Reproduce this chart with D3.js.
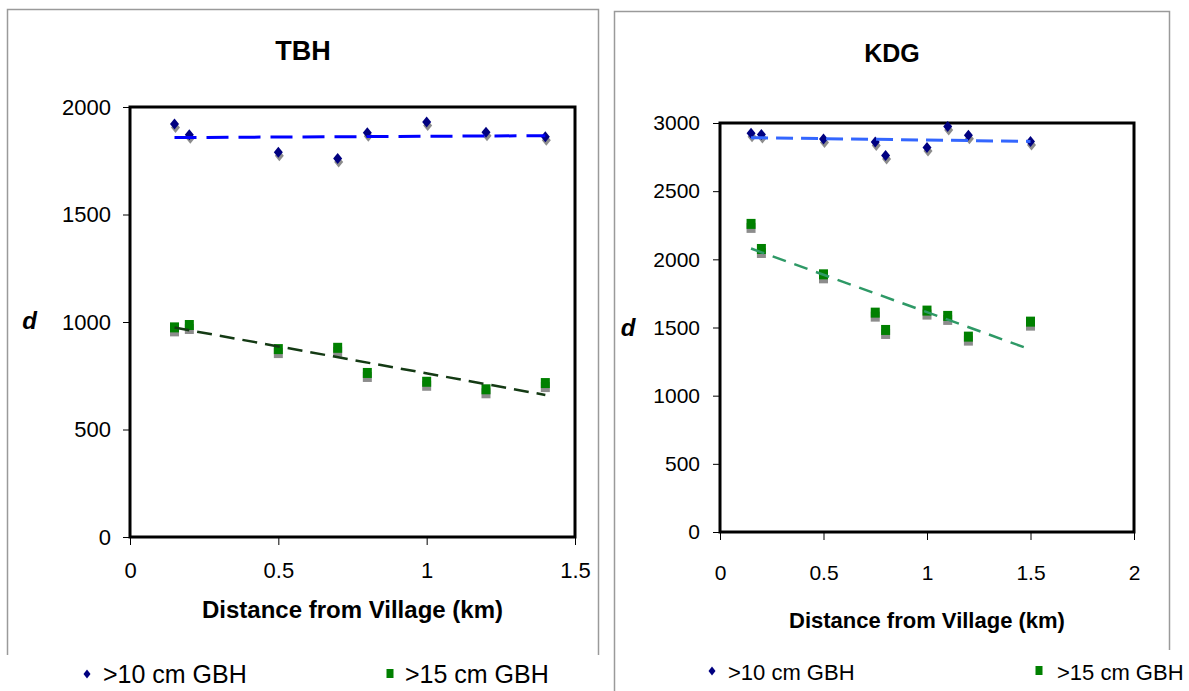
<!DOCTYPE html>
<html>
<head>
<meta charset="utf-8">
<script src="https://cdn.jsdelivr.net/npm/d3@7"></script>
<style>
  body { margin: 0; background: #fff; }
  svg text { font-family: "Liberation Sans", Arial, sans-serif; }
</style>
</head>
<body>
<script>
// Values.
var seriesNames = [">10 cm GBH", ">15 cm GBH"];

var tbhDistance = [0.15, 0.2, 0.5, 0.7, 0.8, 1.0, 1.2, 1.4];
var tbhGbh10 = [1921, 1871, 1789, 1761, 1880, 1930, 1882, 1862];
var tbhGbh15 = [975, 986, 874, 880, 763, 722, 687, 716];
var tbhXTicks = [0, 0.5, 1, 1.5];
var tbhYTicks = [0, 500, 1000, 1500, 2000];

var kdgDistance = [0.15, 0.2, 0.5, 0.75, 0.8, 1.0, 1.1, 1.2, 1.5];
var kdgGbh10 = [2925, 2915, 2883, 2861, 2761, 2820, 2974, 2910, 2864];
var kdgGbh15 = [2260, 2076, 1890, 1609, 1482, 1624, 1585, 1433, 1543];
var kdgXTicks = [0, 0.5, 1, 1.5, 2];
var kdgYTicks = [0, 500, 1000, 1500, 2000, 2500, 3000];

var svg = d3.select("body")
            .append("svg")
            .attr("width", 1189)
            .attr("height", 691);

// Layout of each panel, in pixels.
var panels = [
  {title: "TBH", dist: tbhDistance, s10: tbhGbh10, s15: tbhGbh15,
   xTicks: tbhXTicks, yTicks: tbhYTicks,
   frame: {x0: 7.5, x1: 598.5, y0: 9.5, leftEnd: 655, rightEnd: 655},
   plot: {left: 130, right: 575, top: 107, bottom: 537},
   titleY: 60, titleSize: 27, tickFont: 22, xPad: 17, yPad: 12,
   dX: 29.5, dY: 329, axisTitleY: 618, axisTitleSize: 24,
   legendY: 683, legendSize: 25, legendMarkX: [87, 390], legendTextX: [103, 405],
   line10: {color: "#0000ff", width: 3, dash: "22,10"},
   line15: {color: "#143a14", width: 2.5, dash: "15,8"}},
  {title: "KDG", dist: kdgDistance, s10: kdgGbh10, s15: kdgGbh15,
   xTicks: kdgXTicks, yTicks: kdgYTicks,
   frame: {x0: 614.5, x1: 1169.5, y0: 11.5, leftEnd: 691, rightEnd: 650},
   plot: {left: 720, right: 1134, top: 123, bottom: 532},
   titleY: 62, titleSize: 25, tickFont: 21, xPad: 25, yPad: 13,
   dX: 628, dY: 336, axisTitleY: 628, axisTitleSize: 22,
   legendY: 680, legendSize: 22, legendMarkX: [712, 1039], legendTextX: [728, 1057],
   line10: {color: "#3366ff", width: 3, dash: "17,8"},
   line15: {color: "#2e9966", width: 2.5, dash: "14,9"}}
];

// Least squares line, like the Excel trendline.
function linearFit(xs, ys) {
  var mx = d3.mean(xs), my = d3.mean(ys);
  var sxy = d3.sum(xs, function(x, i) {return (x - mx) * (ys[i] - my);});
  var sxx = d3.sum(xs, function(x) {return (x - mx) * (x - mx);});
  var slope = sxy / sxx;
  return function(x) {return my + slope * (x - mx);};
}

function diamond(cx, cy, w, h) {
  return "M" + cx + "," + (cy - h / 2) + "L" + (cx + w / 2) + "," + cy +
         "L" + cx + "," + (cy + h / 2) + "L" + (cx - w / 2) + "," + cy + "Z";
}

panels.forEach(function(p) {
  var g = svg.append("g");
  var f = p.frame;

  // Gray chart frame, open at the bottom.
  g.append("path")
   .attr("d", "M" + f.x0 + "," + f.leftEnd + "V" + f.y0 + "H" + f.x1 + "V" + f.rightEnd)
   .attr("fill", "none")
   .attr("stroke", "#9a9a9a")
   .attr("stroke-width", 1.5);

  g.append("text")
   .attr("x", (f.x0 + f.x1) / 2)
   .attr("y", p.titleY)
   .attr("text-anchor", "middle")
   .attr("font-size", p.titleSize)
   .attr("font-weight", "bold")
   .text(p.title);

  var xScale = d3.scaleLinear()
                 .domain([p.xTicks[0], p.xTicks[p.xTicks.length - 1]])
                 .range([p.plot.left, p.plot.right]);
  var yScale = d3.scaleLinear()
                 .domain([p.yTicks[0], p.yTicks[p.yTicks.length - 1]])
                 .range([p.plot.bottom, p.plot.top]);

  var xAxis = g.append("g")
               .attr("transform", "translate(0," + p.plot.bottom + ")")
               .call(d3.axisBottom(xScale)
                       .tickValues(p.xTicks)
                       .tickSize(8)
                       .tickPadding(p.xPad)
                       .tickFormat(function(d) {return String(d);}));
  var yAxis = g.append("g")
               .attr("transform", "translate(" + p.plot.left + ",0)")
               .call(d3.axisLeft(yScale)
                       .tickValues(p.yTicks)
                       .tickSize(7)
                       .tickPadding(p.yPad)
                       .tickFormat(d3.format("d")));
  [xAxis, yAxis].forEach(function(a) {
    a.select(".domain").remove();
    a.attr("font-size", p.tickFont)
     .attr("font-family", "'Liberation Sans', Arial, sans-serif");
    a.selectAll("text").attr("fill", "#000");
  });

  // Plot area box
  g.append("rect")
   .attr("x", p.plot.left)
   .attr("y", p.plot.top)
   .attr("width", p.plot.right - p.plot.left)
   .attr("height", p.plot.bottom - p.plot.top)
   .attr("fill", "none")
   .attr("stroke", "#000")
   .attr("stroke-width", 3);

  var pts10 = p.dist.map(function(d, i) {return {x: d, y: p.s10[i]};});
  var pts15 = p.dist.map(function(d, i) {return {x: d, y: p.s15[i]};});

  // Diamonds with their gray shadow
  g.selectAll(".shadow10").data(pts10).enter().append("path")
   .attr("d", function(d) {return diamond(xScale(d.x) + 1, yScale(d.y) + 3.5, 9, 11);})
   .attr("fill", "#8c8c8c");
  g.selectAll(".mark10").data(pts10).enter().append("path")
   .attr("d", function(d) {return diamond(xScale(d.x), yScale(d.y), 9, 11);})
   .attr("fill", "#000080");

  // Squares with their gray shadow
  g.selectAll(".shadow15").data(pts15).enter().append("rect")
   .attr("x", function(d) {return xScale(d.x) - 4.5;})
   .attr("y", function(d) {return yScale(d.y) - 5 + 4;})
   .attr("width", 9).attr("height", 10)
   .attr("fill", "#8c8c8c");
  g.selectAll(".mark15").data(pts15).enter().append("rect")
   .attr("x", function(d) {return xScale(d.x) - 4.5;})
   .attr("y", function(d) {return yScale(d.y) - 5;})
   .attr("width", 9).attr("height", 10)
   .attr("fill", "#008000");

  // Dashed linear trendlines
  [[p.s10, p.line10], [p.s15, p.line15]].forEach(function(s) {
    var fit = linearFit(p.dist, s[0]);
    var ends = d3.extent(p.dist);
    g.append("line")
     .attr("x1", xScale(ends[0])).attr("y1", yScale(fit(ends[0])))
     .attr("x2", xScale(ends[1])).attr("y2", yScale(fit(ends[1])))
     .attr("stroke", s[1].color)
     .attr("stroke-width", s[1].width)
     .attr("stroke-dasharray", s[1].dash);
  });

  g.append("text")
   .attr("x", (p.plot.left + p.plot.right) / 2)
   .attr("y", p.axisTitleY)
   .attr("text-anchor", "middle")
   .attr("font-size", p.axisTitleSize)
   .attr("font-weight", "bold")
   .text("Distance from Village (km)");

  g.append("text")
   .attr("x", p.dX)
   .attr("y", p.dY)
   .attr("text-anchor", "middle")
   .attr("font-size", 24)
   .attr("font-weight", "bold")
   .attr("font-style", "italic")
   .text("d");

  // Legend
  g.append("path")
   .attr("d", diamond(p.legendMarkX[0], p.legendY - 9, 7, 9))
   .attr("fill", "#000080");
  g.append("rect")
   .attr("x", p.legendMarkX[1] - 3.5)
   .attr("y", p.legendY - 14)
   .attr("width", 7).attr("height", 9)
   .attr("fill", "#008000");
  seriesNames.forEach(function(name, i) {
    g.append("text")
     .attr("x", p.legendTextX[i])
     .attr("y", p.legendY)
     .attr("font-size", p.legendSize)
     .text(name);
  });
});
</script>
</body>
</html>
